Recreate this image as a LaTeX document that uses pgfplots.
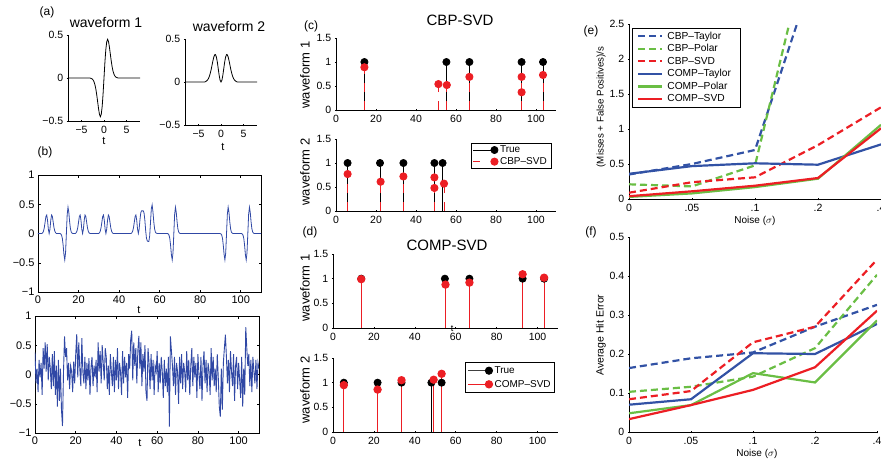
\documentclass[border=0pt]{standalone}
\usepackage{fontspec}
\setmainfont{Liberation Sans}
\usepackage{pgfplots}
\pgfplotsset{compat=1.18}

\definecolor{sigblue}{RGB}{48,72,165}
\definecolor{mblue}{RGB}{50,82,165}
\definecolor{mgreen}{RGB}{106,190,68}
\definecolor{mred}{RGB}{236,30,36}

\pgfplotsset{
  panel/.style={scale only axis, anchor=south west,
    /pgf/number format/assume math mode=true,
    tick align=inside, major tick length=2.5pt,
    every tick/.style={black, line width=0.5pt},
    axis line style={black, line width=0.6pt},
    tick label style={font=\fontsize{10.5}{12}\selectfont},
    legend cell align=left},
  boxoff/.style={axis x line=bottom, axis y line=left,
    every outer x axis line/.append style={-},
    every outer y axis line/.append style={-},
    axis line style={-}},
  stemleg/.style={legend image code/.code={
    \draw[mark repeat=3, mark phase=3, ##1] plot coordinates {(0pt,0pt) (10pt,0pt) (21pt,0pt)};}},
  lineleg/.style={legend image code/.code={
    \draw[##1, line width=2.2pt] (0pt,0pt) -- (24pt,0pt);}},
  truestem/.style={ycomb, black, line width=0.7pt, mark=*, mark size=3.6pt, mark options={fill=black}},
}

\begin{document}
\begin{tikzpicture}
\path[use as bounding box] (0pt,0pt) rectangle (881pt,-461pt);
\clip (0pt,0pt) rectangle (881pt,-461pt);

% ---- (a) waveform 1
\begin{axis}[panel, boxoff, at={(68pt,-121pt)}, width=72pt, height=86pt,
  xmin=-8, xmax=8, ymin=-0.5, ymax=0.5,
  xtick={-5,0,5}, xticklabels={−5,0,5},
  ytick={-0.5,0,0.5}, yticklabels={−0.5,0,0.5}]
\addplot[black, line width=0.8pt] coordinates {
  (-8,0) (-3.2,0) (-3,-0.002) (-2.8,-0.006) (-2.6,-0.012) (-2.4,-0.025)
  (-2.2,-0.047) (-2,-0.081) (-1.8,-0.133) (-1.6,-0.201) (-1.4,-0.281)
  (-1.2,-0.361) (-1,-0.425) (-0.8,-0.45) (-0.6,-0.42) (-0.4,-0.327)
  (-0.2,-0.18) (0,0) (0.2,0.18) (0.4,0.327) (0.6,0.42) (0.8,0.45)
  (1,0.425) (1.2,0.361) (1.4,0.281) (1.6,0.201) (1.8,0.133) (2,0.081)
  (2.2,0.047) (2.4,0.025) (2.6,0.012) (2.8,0.006) (3,0.002) (3.2,0) (8,0)};
\end{axis}

% ---- (a) waveform 2
\begin{axis}[panel, boxoff, at={(185pt,-125pt)}, width=72pt, height=86pt,
  xmin=-8, xmax=8, ymin=-0.5, ymax=0.5,
  xtick={-5,0,5}, xticklabels={−5,0,5},
  ytick={-0.5,0,0.5}, yticklabels={−0.5,0,0.5}]
\addplot[black, line width=0.8pt] coordinates {
  (-8,0) (-3.6,0) (-3.4,0.006) (-3.2,0.012) (-3,0.023) (-2.8,0.039)
  (-2.6,0.064) (-2.4,0.098) (-2.2,0.142) (-2,0.193) (-1.8,0.245)
  (-1.6,0.29) (-1.4,0.316) (-1.3,0.32) (-1.2,0.316) (-1,0.285)
  (-0.8,0.226) (-0.6,0.15) (-0.4,0.075) (-0.2,0.02) (0,0)
  (0.2,0.02) (0.4,0.075) (0.6,0.15) (0.8,0.226) (1,0.285) (1.2,0.316)
  (1.3,0.32) (1.4,0.316) (1.6,0.29) (1.8,0.245) (2,0.193) (2.2,0.142)
  (2.4,0.098) (2.6,0.064) (2.8,0.039) (3,0.023) (3.2,0.012) (3.4,0.006)
  (3.6,0) (8,0)};
\end{axis}

% ---- (b) clean signal
\begin{axis}[panel, at={(38pt,-292pt)}, width=223pt, height=117pt,
  xmin=0, xmax=110, ymin=-1, ymax=1, tick pos=both,
  xtick={0,20,...,100}, ytick={-1,-0.5,0,0.5,1},
  yticklabels={−1,−0.5,0,0.5,1},
  tick label style={font=\fontsize{11}{12}\selectfont}]
\addplot[sigblue, line width=0.8pt] coordinates {
  (0,0) (1.9,0) (2.3,0.012) (2.7,0.039) (3.1,0.098) (3.5,0.193) (3.9,0.29)
  (4.3,0.316) (4.7,0.226) (5.1,0.075) (5.5,0) (5.9,0.075) (6.3,0.226)
  (6.7,0.316) (7.1,0.29) (7.5,0.193) (7.9,0.098) (8.3,0.039) (8.7,0.012) (9.1,0)
  (10.8,0) (11.2,-0.006) (11.6,-0.025) (12,-0.081) (12.4,-0.201) (12.8,-0.361)
  (13.2,-0.45) (13.6,-0.327) (14,0) (14.4,0.327) (14.8,0.45) (15.2,0.361)
  (15.6,0.201) (16,0.081) (16.4,0.025) (16.8,0.006) (17.2,0)
  (18.4,0) (18.8,0.012) (19.2,0.039) (19.6,0.098) (20,0.193) (20.4,0.29)
  (20.8,0.316) (21.2,0.226) (21.6,0.075) (22,0) (22.4,0.075) (22.8,0.226)
  (23.2,0.316) (23.6,0.29) (24,0.193) (24.4,0.098) (24.8,0.039) (25.2,0.012) (25.6,0)
  (29.9,0) (30.3,0.012) (30.7,0.039) (31.1,0.098) (31.5,0.193) (31.9,0.29)
  (32.3,0.316) (32.7,0.226) (33.1,0.075) (33.5,0) (33.9,0.075) (34.3,0.226)
  (34.7,0.316) (35.1,0.29) (35.5,0.193) (35.9,0.098) (36.3,0.039) (36.7,0.012) (37.1,0)
  (45.9,0) (46.3,0.012) (46.7,0.039) (47.1,0.098) (47.5,0.193) (47.9,0.29)
  (48.3,0.316) (48.7,0.226) (49.1,0.075) (49.5,0.001) (49.9,0.079) (50.3,0.238)
  (50.7,0.355) (51.1,0.388) (51.5,0.386) (51.9,0.388) (52.3,0.353) (52.7,0.232)
  (53.1,0.054) (53.5,-0.08) (53.9,-0.126) (54.3,-0.135) (54.7,-0.134)
  (55.1,-0.037) (55.5,0.193) (55.9,0.425) (56.3,0.489) (56.7,0.373)
  (57.1,0.205) (57.5,0.082) (57.9,0.025) (58.3,0.006) (58.7,0.002) (59.1,0)
  (63.8,0) (64.2,-0.006) (64.6,-0.025) (65,-0.081) (65.4,-0.201) (65.8,-0.361)
  (66.2,-0.45) (66.6,-0.327) (67,0) (67.4,0.327) (67.8,0.45) (68.2,0.361)
  (68.6,0.201) (69,0.081) (69.4,0.025) (69.8,0.006) (70.2,0)
  (89.8,0) (90.2,-0.006) (90.6,-0.025) (91,-0.081) (91.4,-0.201) (91.8,-0.361)
  (92.2,-0.45) (92.6,-0.327) (93,0) (93.4,0.327) (93.8,0.45) (94.2,0.361)
  (94.6,0.201) (95,0.081) (95.4,0.025) (95.8,0.006) (96.2,0)
  (100.3,0) (100.7,-0.006) (101.1,-0.025) (101.5,-0.081) (101.9,-0.201)
  (102.3,-0.361) (102.7,-0.45) (103.1,-0.327) (103.5,0) (103.9,0.327)
  (104.3,0.45) (104.7,0.361) (105.1,0.201) (105.5,0.081) (105.9,0.025)
  (106.3,0.006) (106.7,0) (110,0)};
\end{axis}

% ---- (b) noisy signal
\begin{axis}[panel, at={(35pt,-433pt)}, width=224pt, height=117pt,
  xmin=0, xmax=110, ymin=-1, ymax=1, tick pos=both,
  xtick={0,20,...,100}, ytick={-1,-0.5,0,0.5,1},
  yticklabels={−1,−0.5,0,0.5,1},
  tick label style={font=\fontsize{11}{12}\selectfont}]
\addplot[sigblue, line width=0.9pt] coordinates {
  (0,0.38) (0.5,-0.15) (1,0.10) (1.5,-0.30) (2,0.25) (2.5,-0.05) (3,0.20) (3.5,-0.35) (4,0.45) (4.5,0.10)
  (5,0.55) (5.5,0.05) (6,0.52) (6.5,-0.10) (7,0.30) (7.5,0.12) (8,-0.25) (8.5,0.35) (9,-0.20) (9.5,0.40)
  (10,-0.35) (10.5,0.15) (11,-0.55) (11.5,0.25) (12,-0.45) (12.5,0.10) (13,-0.60) (13.5,-0.88) (14,0.05) (14.5,0.65)
  (15,0.30) (15.5,0.45) (16,-0.10) (16.5,0.20) (17,-0.25) (17.5,0.15) (18,0.05) (18.5,-0.30) (19,0.22) (19.5,-0.15)
  (20,0.35) (20.5,0.69) (21,-0.05) (21.5,0.55) (22,0.10) (22.5,-0.20) (23,0.62) (23.5,0.05) (24,-0.15) (24.5,0.30)
  (25,-0.25) (25.5,0.20) (26,-0.10) (26.5,0.28) (27,-0.35) (27.5,0.12) (28,0.30) (28.5,-0.20) (29,0.15) (29.5,-0.05)
  (30,0.25) (30.5,-0.30) (31,0.55) (31.5,0.05) (32,0.40) (32.5,-0.15) (33,0.50) (33.5,0.20) (34,-0.10) (34.5,0.45)
  (35,0.30) (35.5,-0.25) (36,0.15) (36.5,-0.35) (37,0.35) (37.5,0.05) (38,-0.20) (38.5,0.30) (39,-0.30) (39.5,0.25)
  (40,-0.10) (40.5,0.45) (41,-0.25) (41.5,0.20) (42,0.05) (42.5,-0.35) (43,0.40) (43.5,-0.15) (44,0.30) (44.5,-0.05)
  (45,0.20) (45.5,-0.40) (46,0.35) (46.5,0.10) (47,0.60) (47.5,0.75) (48,-0.10) (48.5,0.55) (49,0.15) (49.5,0.45)
  (50,-0.15) (50.5,0.40) (51,0.66) (51.5,0.10) (52,0.55) (52.5,-0.20) (53,0.35) (53.5,0.05) (54,0.50) (54.5,-0.30)
  (55,-0.45) (55.5,0.45) (56,0.20) (56.5,-0.25) (57,0.35) (57.5,-0.10) (58,0.25) (58.5,-0.35) (59,0.15) (59.5,0.05)
  (60,0.40) (60.5,-0.30) (61,0.20) (61.5,-0.15) (62,0.30) (62.5,0.05) (63,-0.40) (63.5,0.25) (64,-0.20) (64.5,0.10)
  (65,-0.30) (65.5,0.30) (66,-0.89) (66.5,0.65) (67,0.40) (67.5,0.15) (68,-0.20) (68.5,0.30) (69,-0.35) (69.5,0.20)
  (70,0.05) (70.5,-0.50) (71,0.30) (71.5,-0.15) (72,0.35) (72.5,-0.25) (73,0.20) (73.5,0.05) (74,-0.30) (74.5,0.40)
  (75,-0.10) (75.5,0.25) (76,-0.35) (76.5,0.15) (77,0.45) (77.5,-0.20) (78,0.30) (78.5,-0.05) (79,0.20) (79.5,-0.40)
  (80,0.35) (80.5,0.00) (81,-0.25) (81.5,0.30) (82,-0.45) (82.5,0.15) (83,0.40) (83.5,-0.15) (84,0.25) (84.5,-0.30)
  (85,0.20) (85.5,0.05) (86,-0.35) (86.5,0.45) (87,-0.10) (87.5,0.30) (88,-0.20) (88.5,0.10) (89,-0.30) (89.5,0.35)
  (90,-0.05) (90.5,-0.55) (91,-0.72) (91.5,0.10) (92,-0.60) (92.5,0.20) (93,0.45) (93.5,0.68) (94,0.30) (94.5,-0.15)
  (95,0.25) (95.5,-0.30) (96,0.40) (96.5,0.05) (97,-0.20) (97.5,0.35) (98,-0.45) (98.5,0.15) (99,0.30) (99.5,-0.25)
  (100,0.20) (100.5,-0.10) (101,-0.40) (101.5,0.30) (102,-0.55) (102.5,0.10) (103,-0.35) (103.5,0.81) (104,0.45) (104.5,0.15)
  (105,0.35) (105.5,-0.20) (106,0.25) (106.5,-0.30) (107,0.30) (107.5,0.05) (108,-0.15) (108.5,0.25) (109,-0.25) (109.5,0.20)
  (110,0.10)};
\end{axis}

% ---- (c) CBP-SVD, waveform 1
\begin{axis}[panel, boxoff, at={(336pt,-110pt)}, width=220pt, height=72pt,
  xmin=0, xmax=110, ymin=0, ymax=1.5,
  xtick={0,20,...,100}, ytick={0,0.5,1,1.5}]
\addplot[truestem] coordinates {(14.2,1) (55.2,1) (66.7,1) (92.8,1) (103.5,1)};
\addplot[ycomb, mred, line width=0.9pt, dash pattern=on 9pt off 9pt,
  mark=*, mark size=3.6pt, mark options={solid, fill=mred}] coordinates {
  (14.2,0.89) (51.2,0.54) (55.4,0.52) (66.7,0.69) (92.8,0.69) (92.8,0.37) (103.5,0.73)};
\end{axis}

% ---- (c) CBP-SVD, waveform 2
\begin{axis}[panel, boxoff, stemleg, at={(336pt,-211pt)}, width=220pt, height=72pt,
  xmin=0, xmax=110, ymin=0, ymax=1.5,
  xtick={0,20,...,100}, ytick={0,0.5,1,1.5},
  legend style={at={(0.977,0.944)}, anchor=north east, font=\fontsize{10}{12}\selectfont,
    draw=black, inner xsep=2pt, inner ysep=1pt, row sep=0pt,
    nodes={inner ysep=1.6pt}}]
\addlegendimage{black, line width=0.7pt, mark=*, mark size=3.6pt, mark options={fill=black}}
\addlegendentry{True}
\addlegendimage{mred, line width=0.9pt, dash pattern=on 7pt off 20pt, mark=*, mark size=3.6pt, mark options={solid, fill=mred}}
\addlegendentry{CBP–SVD}
\addplot[truestem, forget plot] coordinates {(5.8,1) (22,1) (33.7,1) (49.2,1) (53.3,1)};
\addplot[ycomb, mred, line width=0.9pt, dash pattern=on 9pt off 9pt, forget plot,
  mark=*, mark size=3.6pt, mark options={solid, fill=mred}] coordinates {
  (5.8,0.77) (22.3,0.61) (33.7,0.72) (49.2,0.70) (49.2,0.48) (54,0.57)};
\end{axis}

% ---- (d) COMP-SVD, waveform 1
\begin{axis}[panel, boxoff, at={(333pt,-328pt)}, width=225pt, height=74pt,
  xmin=0, xmax=110, ymin=0, ymax=1.5,
  xtick={0,20,...,100}, ytick={0,0.5,1,1.5}]
\addplot[truestem] coordinates {(13.8,1) (54.7,1) (66.7,1) (92.7,1) (103.2,1)};
\addplot[ycomb, mred, line width=1.1pt, mark=*, mark size=3.6pt, mark options={fill=mred}] coordinates {
  (13.8,0.99) (55,0.88) (66.7,0.92) (92.7,1.09) (103.2,1.02)};
\end{axis}

% ---- (d) COMP-SVD, waveform 2
\begin{axis}[panel, boxoff, stemleg, at={(333pt,-432pt)}, width=225pt, height=74pt,
  xmin=0, xmax=110, ymin=0, ymax=1.5,
  xtick={0,20,...,100}, ytick={0,0.5,1,1.5},
  legend style={at={(0.987,0.946)}, anchor=north east, font=\fontsize{10}{12}\selectfont,
    draw=black, line width=0.8pt, inner xsep=2pt, inner ysep=1.5pt, row sep=0pt,
    nodes={inner ysep=2.6pt}}]
\addlegendimage{black!75, line width=0.9pt, mark=*, mark size=3.6pt, mark options={fill=black, draw=black}}
\addlegendentry{True}
\addlegendimage{mred, line width=1.1pt, mark=*, mark size=3.6pt, mark options={fill=mred}}
\addlegendentry{COMP–SVD}
\addplot[truestem, forget plot] coordinates {(5.3,1) (21.8,1) (33.5,1) (48.1,1) (53.1,1)};
\addplot[ycomb, mred, line width=1.1pt, forget plot, mark=*, mark size=3.6pt, mark options={fill=mred}] coordinates {
  (5.3,0.95) (21.8,0.86) (33.5,1.05) (49.2,1.06) (53.1,1.18)};
\end{axis}

% ---- (e) misses + false positives
\begin{axis}[panel, boxoff, lineleg, at={(629pt,-199pt)}, width=252pt, height=175pt,
  xmin=0, xmax=4, ymin=0, ymax=2.5,
  xtick={0,1,2,3,4}, xticklabels={0,.05,.1,.2,.4},
  ytick={0,0.5,1,1.5,2,2.5},
  every axis plot/.append style={line width=2.2pt},
  legend style={at={(0.012,0.977)}, anchor=north west, font=\fontsize{10.2}{12}\selectfont,
    draw=black, inner xsep=5pt, inner ysep=1.5pt, row sep=0pt,
    nodes={inner ysep=1.9pt, inner xsep=4pt}}]
\addplot[mblue, dash pattern=on 7pt off 4pt] coordinates {(0,0.35) (1,0.50) (2,0.70) (3,3.4) (4,5)};
\addlegendentry{CBP–Taylor}
\addplot[mgreen, dash pattern=on 7pt off 4pt] coordinates {(0,0.21) (1,0.18) (2,0.48) (3,4.2) (4,6)};
\addlegendentry{CBP–Polar}
\addplot[mred, dash pattern=on 7pt off 4pt] coordinates {(0,0.09) (1,0.24) (2,0.31) (3,0.77) (4,1.31)};
\addlegendentry{CBP–SVD}
\addplot[mblue] coordinates {(0,0.36) (1,0.47) (2,0.51) (3,0.49) (4,0.78)};
\addlegendentry{COMP–Taylor}
\addplot[mgreen] coordinates {(0,0.03) (1,0.08) (2,0.17) (3,0.29) (4,1.06)};
\addlegendentry{COMP–Polar}
\addplot[mred] coordinates {(0,0.04) (1,0.11) (2,0.19) (3,0.30) (4,1.01)};
\addlegendentry{COMP–SVD}
\end{axis}

% ---- (f) average hit error
\begin{axis}[panel, boxoff, at={(629pt,-432pt)}, width=248pt, height=195pt,
  xmin=0, xmax=4, ymin=0, ymax=0.5,
  xtick={0,1,2,3,4}, xticklabels={0,.05,.1,.2,.4},
  ytick={0,0.1,0.2,0.3,0.4,0.5},
  every axis plot/.append style={line width=2.2pt}]
\addplot[mblue, dash pattern=on 7pt off 4pt] coordinates {(0,0.164) (1,0.189) (2,0.204) (3,0.27) (4,0.326)};
\addplot[mgreen, dash pattern=on 7pt off 4pt] coordinates {(0,0.103) (1,0.116) (2,0.142) (3,0.215) (4,0.403)};
\addplot[mred, dash pattern=on 7pt off 4pt] coordinates {(0,0.084) (1,0.105) (2,0.23) (3,0.27) (4,0.442)};
\addplot[mblue] coordinates {(0,0.070) (1,0.084) (2,0.202) (3,0.200) (4,0.277)};
\addplot[mgreen] coordinates {(0,0.048) (1,0.069) (2,0.151) (3,0.127) (4,0.286)};
\addplot[mred] coordinates {(0,0.033) (1,0.069) (2,0.108) (3,0.166) (4,0.311)};
\end{axis}

% ---- texts
\node[font=\fontsize{12}{14}\selectfont] at (47pt,-12pt) {(a)};
\node[font=\fontsize{14}{16}\selectfont] at (106pt,-23pt) {waveform 1};
\node[font=\fontsize{14}{16}\selectfont] at (229pt,-27pt) {waveform 2};
\node[font=\fontsize{11}{12}\selectfont] at (104pt,-141pt) {t};
\node[font=\fontsize{11}{12}\selectfont] at (223pt,-147pt) {t};
\node[font=\fontsize{12}{14}\selectfont] at (45pt,-152pt) {(b)};
\node[font=\fontsize{11}{12}\selectfont] at (139pt,-310pt) {t};
\node[font=\fontsize{11}{12}\selectfont] at (140pt,-443pt) {t};
\node[font=\fontsize{12}{14}\selectfont] at (311pt,-26pt) {(c)};
\node[font=\fontsize{15}{18}\selectfont] at (460pt,-20pt) {CBP-SVD};
\node[font=\fontsize{13}{15}\selectfont, rotate=90] at (305pt,-75pt) {waveform 1};
\node[font=\fontsize{13}{15}\selectfont, rotate=90] at (305pt,-172pt) {waveform 2};
\node[font=\fontsize{12}{14}\selectfont] at (310pt,-232pt) {(d)};
\node[font=\fontsize{15}{18}\selectfont] at (447pt,-245pt) {COMP-SVD};
\node[font=\fontsize{13}{15}\selectfont, rotate=90] at (305pt,-288pt) {waveform 1};
\node[font=\fontsize{13}{15}\selectfont, rotate=90] at (305pt,-390pt) {waveform 2};
\node[font=\fontsize{9}{10}\selectfont] at (452pt,-329pt) {t};
\node[font=\fontsize{12}{14}\selectfont] at (591pt,-31pt) {(e)};
\node[font=\fontsize{12}{14}\selectfont] at (591pt,-232pt) {(f)};
\node[font=\fontsize{9.7}{11}\selectfont, rotate=90] at (601pt,-107pt) {(Misses + False Positives)/s};
\node[font=\fontsize{10.5}{12}\selectfont, rotate=90] at (601pt,-335pt) {Average Hit Error};
\node[font=\fontsize{10}{12}\selectfont] at (755pt,-221pt) {Noise ($\sigma$)};
\node[font=\fontsize{10}{12}\selectfont] at (757pt,-454pt) {Noise ($\sigma$)};
\end{tikzpicture}
\end{document}
